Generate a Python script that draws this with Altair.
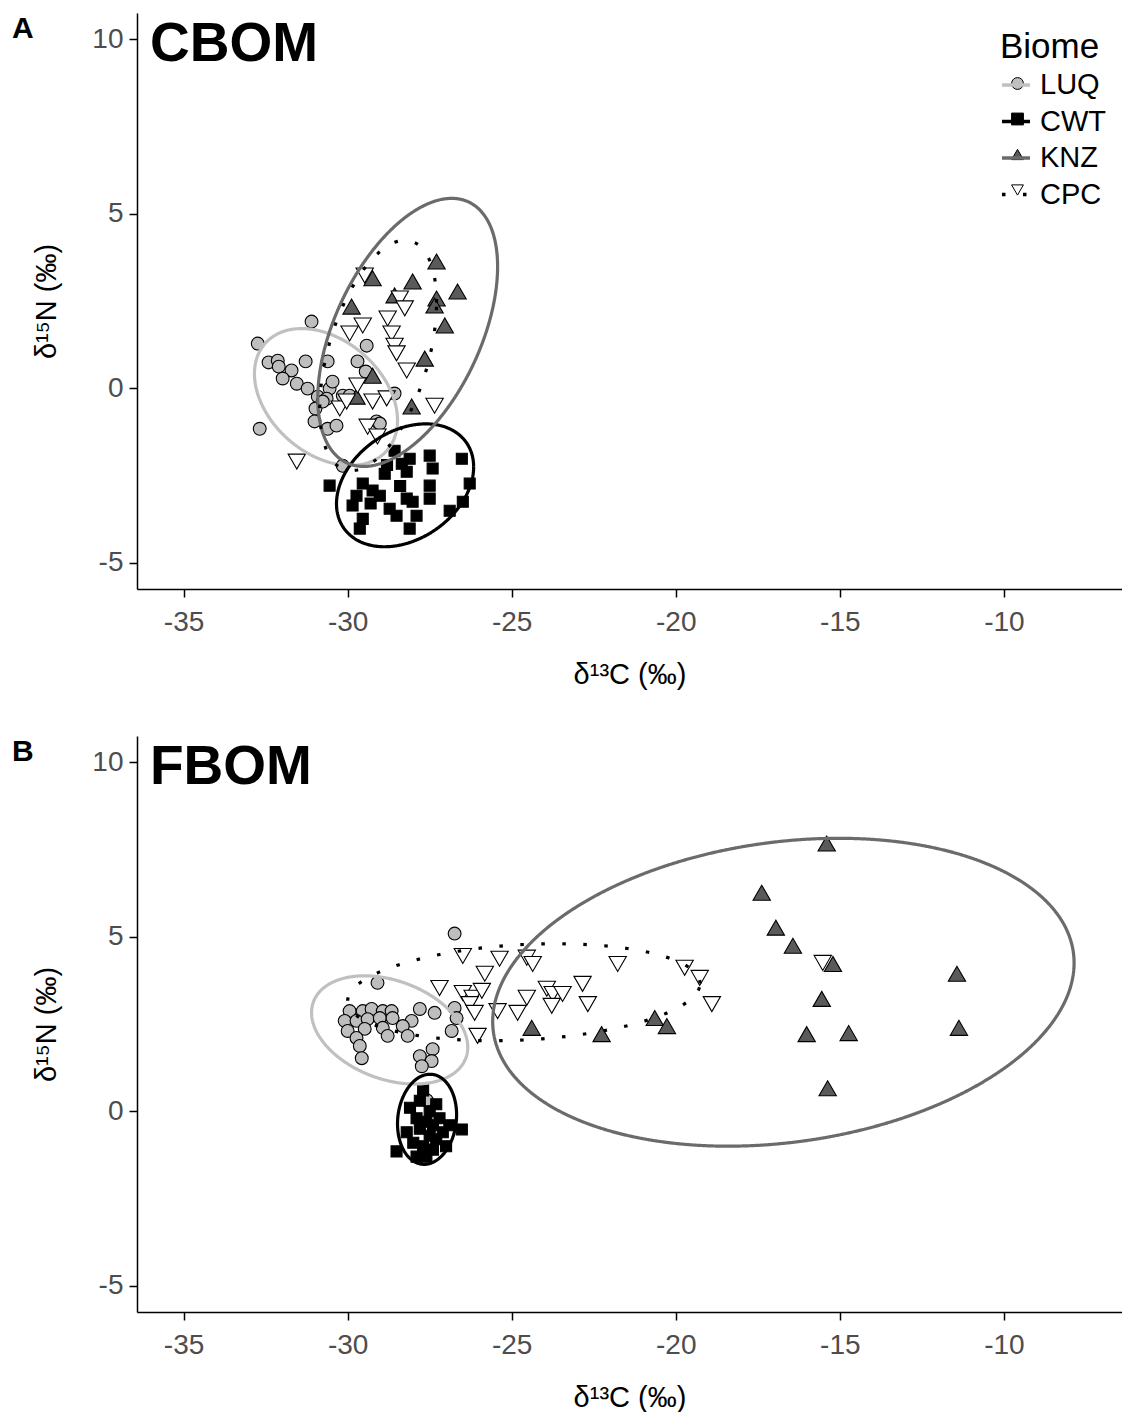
import numpy as np
import pandas as pd
import altair as alt

FONT = "Liberation Sans"

BIOMES = ["LUQ", "CWT", "KNZ", "CPC"]
POINT_FILLS = ["#BEBEBE", "#000000", "#5A5A5A", "#FFFFFF"]
POINT_STROKES = ["#000000", "#000000", "#000000", "#000000"]
LINE_COLORS = ["#C0C0C0", "#000000", "#6B6B6B", "#000000"]
SHAPES = ["circle", "square", "triangle-up", "triangle-down"]
DASHES = [[1, 0], [1, 0], [1, 0], [3.5, 17.5]]

X_TICKS = [-35, -30, -25, -20, -15, -10]
Y_TICKS = [-5, 0, 5, 10]
X_DOMAIN = [-36.42, -6.4]
Y_DOMAIN = [-5.75, 10.75]

# ---------------- Panel A (CBOM) ----------------
luq_a_x = [-32.74, -32.68, -31.10, -32.41, -32.13, -32.10, -31.71, -31.28, -30.61, -31.98,
           -31.55, -31.22, -30.91, -30.55, -30.46, -30.64, -30.98, -30.76, -31.01, -30.61,
           -30.34, -30.15, -29.94, -29.70, -29.42, -29.45, -29.12, -29.02, -30.15, -28.57]
luq_a_y = [1.28, -1.16, 1.91, 0.74, 0.79, 0.62, 0.51, 0.77, 0.77, 0.28,
           0.13, -0.01, -0.24, -0.01, 0.19, -0.30, -0.58, -0.38, -0.95, -1.16,
           -1.07, -0.21, -0.21, 0.77, 1.22, 0.48, -0.95, -1.01, -2.22, -0.15]
cwt_a_x = [-30.55, -29.54, -29.73, -29.85, -29.24, -29.02, -28.87, -28.57, -28.35, -28.20,
           -28.11, -28.72, -28.51, -29.54, -29.63, -28.20, -28.02, -27.90, -27.50, -27.41,
           -27.50, -27.50, -28.11, -26.52, -26.28, -26.49, -26.89, -29.30, -28.80, -28.40]
cwt_a_y = [-2.79, -2.73, -3.08, -3.36, -2.93, -3.08, -2.45, -1.79, -2.16, -2.39,
           -2.02, -3.45, -3.65, -3.74, -4.02, -3.16, -3.25, -3.65, -1.93, -2.30,
           -2.79, -3.16, -4.02, -2.02, -2.73, -3.25, -3.51, -3.30, -2.20, -2.80]
knz_a_x = [-27.29, -29.24, -28.02, -26.65, -27.29, -27.35, -27.04, -29.88, -27.65, -29.24,
           -29.73, -28.05, -28.57]
knz_a_y = [3.63, 3.15, 3.06, 2.77, 2.57, 2.37, 1.80, 2.34, 0.85, 0.36,
           -0.24, -0.52, 2.66]
cpc_a_x = [-29.48, -28.41, -28.26, -29.54, -29.94, -28.78, -28.66, -28.57, -28.51, -28.20,
           -27.35, -29.70, -29.24, -30.24, -30.03, -29.39, -31.55, -28.81, -29.09]
cpc_a_y = [3.23, 2.57, 2.29, 1.80, 1.57, 2.00, 1.57, 1.22, 1.00, 0.51,
           -0.50, 0.08, -0.38, -0.58, -0.38, -1.10, -2.10, -0.29, -1.38]

# ellipse outlines: centre x, centre y, half-width, half-height, tilt (correlation)
ell_a = [(-30.66, -0.25, 2.18, 1.96, -0.34),
         (-28.25, -2.78, 2.09, 1.76, 0.30),
         (-28.17, 1.60, 2.74, 3.84, 0.49),
         (-29.07, 0.94, 1.78, 3.30, 0.46)]

# ---------------- Panel B (FBOM) ----------------
luq_b_x = [-26.74, -29.09, -29.94, -29.54, -29.27, -28.93, -28.66, -27.80, -27.35, -30.09,
           -29.73, -29.39, -29.02, -28.63, -28.05, -28.32, -30.00, -29.48, -28.93, -28.17,
           -28.78, -29.73, -29.63, -29.57, -26.83, -26.74, -26.68, -27.80, -27.41, -27.44,
           -27.74, -27.59]
luq_b_y = [5.09, 3.68, 2.87, 2.87, 2.93, 2.87, 2.87, 2.93, 2.82, 2.59,
           2.59, 2.64, 2.67, 2.67, 2.59, 2.44, 2.30, 2.36, 2.39, 2.16,
           2.16, 2.10, 1.87, 1.52, 2.30, 2.96, 2.67, 1.58, 1.78, 1.44,
           1.29, 0.32]
cwt_b_x = [-28.51, -28.20, -28.00, -27.90, -27.80, -27.80, -27.70, -27.70, -27.60, -27.60,
           -27.50, -27.50, -27.40, -27.40, -27.30, -27.30, -27.20, -27.10, -27.00, -26.90,
           -26.52, -28.10, -27.90]
cwt_b_y = [-1.15, -0.60, -0.90, -0.20, -0.50, 0.30, -1.00, 0.60, -0.30, -1.30,
           0.00, -0.70, -0.40, -1.10, 0.20, -0.80, -0.20, -0.60, -1.00, -0.40,
           -0.52, 0.10, -1.30]
knz_b_x = [-15.40, -17.38, -16.95, -16.43, -15.21, -15.55, -16.01, -14.73, -15.37, -11.43,
           -11.37, -22.26, -20.64, -20.27, -24.39]
knz_b_y = [7.67, 6.26, 5.26, 4.74, 4.22, 3.22, 2.21, 2.24, 0.66, 3.94,
           2.39, 2.21, 2.67, 2.44, 2.39]
cpc_b_x = [-26.49, -25.82, -25.37, -24.54, -24.36, -27.20, -26.49, -26.19, -25.91, -26.28,
           -26.13, -25.43, -24.82, -24.54, -23.93, -23.75, -23.45, -23.78, -22.84, -22.68,
           -26.04, -21.77, -19.73, -19.27, -18.90, -15.52]
cpc_b_y = [4.45, 3.94, 4.37, 4.40, 4.22, 3.53, 3.39, 3.25, 3.45, 3.07,
           2.82, 2.87, 2.82, 3.25, 3.51, 3.36, 3.36, 3.02, 3.65, 3.07,
           2.16, 4.22, 4.11, 3.82, 3.07, 4.25]

ell_b = [(-28.72, 2.33, 2.38, 1.55, -0.32),
         (-27.58, -0.23, 0.90, 1.29, 0.10),
         (-16.72, 3.41, 8.86, 4.41, 0.19),
         (-24.63, 3.41, 5.37, 1.39, 0.18)]


def points_table(xs_list, ys_list):
    frames = [pd.DataFrame({"Biome": b, "x": xs, "y": ys})
              for b, xs, ys in zip(BIOMES, xs_list, ys_list)]
    return pd.concat(frames, ignore_index=True)


def ellipse_table(params):
    t = np.linspace(0, 2 * np.pi, 241)
    frames = []
    for b, (cx, cy, rx, ry, rho) in zip(BIOMES, params):
        frames.append(pd.DataFrame({
            "Biome": b,
            "i": np.arange(len(t)),
            "x": cx + rx * np.cos(t),
            "y": cy + ry * (rho * np.cos(t) + np.sqrt(1 - rho ** 2) * np.sin(t)),
        }))
    return pd.concat(frames, ignore_index=True)


ORDER_EXPR = "indexof(" + str(BIOMES).replace('"', "'") + ", datum.Biome) + '_' + datum.Biome"


def panel(pts, ell, name, letter, with_legend):
    xscale = alt.Scale(domain=X_DOMAIN, nice=False, zero=False)
    yscale = alt.Scale(domain=Y_DOMAIN, nice=False, zero=False)
    axis_style = dict(grid=False, domainColor="black", domainWidth=1.5, tickColor="black",
                      tickWidth=1.5, tickSize=8, labelFont=FONT, labelFontSize=28,
                      labelColor="#4D4D4D", titleFont=FONT, titleFontSize=29,
                      titleFontWeight="normal", titleColor="black",
                      labelExpr="replace(datum.label, '−', '-')")
    xaxis = alt.Axis(values=X_TICKS, title="δ¹³C (‰)", labelPadding=11, titlePadding=24, **axis_style)
    yaxis = alt.Axis(values=Y_TICKS, title="δ¹⁵N (‰)", labelPadding=6, titlePadding=30, **axis_style)

    if with_legend:
        common = dict(title="Biome", orient="none", legendY=17, titleFont=FONT, titleFontSize=35,
                      titleFontWeight="normal", labelFont=FONT, labelFontSize=29,
                      labelOffset=8, rowPadding=5.5, titlePadding=4, padding=0)
        line_leg = alt.Legend(legendX=863, symbolType="stroke", symbolSize=784,
                              symbolStrokeWidth=3.5, titleColor="black", labelColor="black", **common)
        pt_leg = alt.Legend(legendX=866, symbolSize=140, symbolStrokeWidth=1,
                            titleColor="transparent", labelColor="transparent",
                            labelExpr="slice(datum.label, 2)", **common)
    else:
        line_leg = None
        pt_leg = None

    points = alt.Chart(pts).transform_calculate(
        key=ORDER_EXPR,
        sz="datum.Biome == 'LUQ' ? 165 : (datum.Biome == 'CWT' ? 121 : 300)",
    ).mark_point(filled=True, strokeWidth=1.1, opacity=1).encode(
        x=alt.X("x:Q", scale=xscale, axis=xaxis),
        y=alt.Y("y:Q", scale=yscale, axis=yaxis),
        shape=alt.Shape("key:N", scale=alt.Scale(range=SHAPES), legend=pt_leg),
        fill=alt.Fill("key:N", scale=alt.Scale(range=POINT_FILLS), legend=pt_leg),
        stroke=alt.Stroke("key:N", scale=alt.Scale(range=POINT_STROKES), legend=pt_leg),
        size=alt.Size("sz:Q", scale=None),
    )

    lines = alt.Chart(ell).mark_line(strokeWidth=3.2, strokeCap="butt").encode(
        x="x:Q",
        y="y:Q",
        color=alt.Color("Biome:N", scale=alt.Scale(domain=BIOMES, range=LINE_COLORS), legend=line_leg),
        strokeDash=alt.StrokeDash("Biome:N", scale=alt.Scale(domain=BIOMES, range=DASHES), legend=line_leg),
        order=alt.Order("i:Q"),
    )

    letter_mark = alt.Chart(pd.DataFrame({"t": [letter]})).mark_text(
        align="left", baseline="top", fontSize=30, fontWeight="bold", font=FONT, color="black"
    ).encode(text="t:N", x=alt.value(-125), y=alt.value(1))

    name_mark = alt.Chart(pd.DataFrame({"t": [name]})).mark_text(
        align="left", baseline="top", fontSize=55, fontWeight="bold", font=FONT, color="black"
    ).encode(text="t:N", x=alt.value(13), y=alt.value(5))

    return alt.layer(points, lines, letter_mark, name_mark).properties(width=985, height=576)


pA = panel(points_table([luq_a_x, cwt_a_x, knz_a_x, cpc_a_x], [luq_a_y, cwt_a_y, knz_a_y, cpc_a_y]),
           ellipse_table(ell_a), "CBOM", "A", True)
pB = panel(points_table([luq_b_x, cwt_b_x, knz_b_x, cpc_b_x], [luq_b_y, cwt_b_y, knz_b_y, cpc_b_y]),
           ellipse_table(ell_b), "FBOM", "B", False)

chart = alt.vconcat(pA, pB, spacing=47).resolve_scale(
    color="independent", strokeDash="independent", shape="independent", fill="independent",
    stroke="independent"
).properties(
    padding={"left": 12, "top": 13, "right": 0, "bottom": 0},
    background="white",
).configure_view(stroke=None)

chart.save("out.html", embed_options={"renderer": "svg", "actions": False})
